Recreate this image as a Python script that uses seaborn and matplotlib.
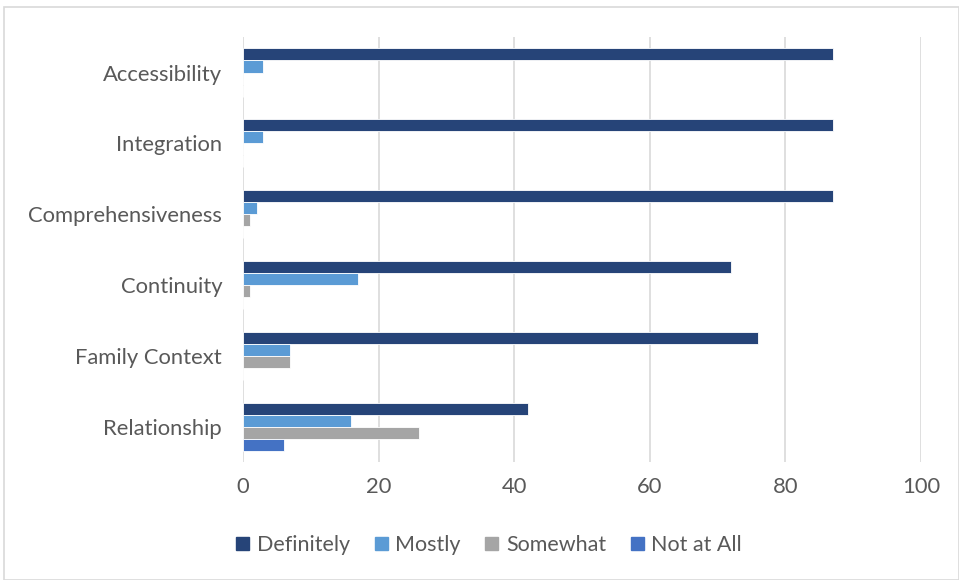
import matplotlib
matplotlib.use("Agg")
import matplotlib.pyplot as plt
import seaborn as sns
import pandas as pd
from matplotlib.patches import Rectangle

categories = ["Accessibility", "Integration", "Comprehensiveness", "Continuity", "Family Context", "Relationship"]
series = ["Definitely", "Mostly", "Somewhat", "Not at All"]
definitely = [87, 87, 87, 72, 76, 42]
mostly = [3, 3, 2, 17, 7, 16]
somewhat = [0, 0, 1, 1, 7, 26]
not_at_all = [0, 0, 0, 0, 0, 6]
colors = ["#264478", "#5B9BD5", "#A5A5A5", "#4472C4"]
xticks = [0, 20, 40, 60, 80, 100]

rows = []
for s, vals in zip(series, [definitely, mostly, somewhat, not_at_all]):
    for c, v in zip(categories, vals):
        rows.append({"Category": c, "Series": s, "Value": v})
df = pd.DataFrame(rows)

sns.set_theme(style="white")
plt.rcParams['font.family'] = ['Lato', 'DejaVu Sans']
text_color = "#595959"
fs = 15.8

fig = plt.figure(figsize=(9.59, 5.8), dpi=100)
ax = fig.add_axes([0.2534, 0.2034, 0.9604 - 0.2534, 0.936 - 0.2034])
sns.barplot(data=df, y="Category", x="Value", hue="Series", order=categories,
            hue_order=series, palette=colors, orient="h", width=0.68,
            ax=ax, saturation=1, linewidth=0.6, edgecolor="white")

ax.set_xlim(0, 100)
ax.set_xticks(xticks)
ax.set_xticklabels([str(t) for t in xticks])
ax.xaxis.grid(True, color="#D9D9D9", linewidth=1.2)
ax.set_axisbelow(True)
for sp in ax.spines.values():
    sp.set_visible(False)
ax.set_xlabel("")
ax.set_ylabel("")
ax.tick_params(axis="both", length=0, colors=text_color, labelsize=fs)
ax.tick_params(axis="x", pad=11)
ax.tick_params(axis="y", pad=15)
ax.set_ylim(5.5, -0.5)

leg = ax.legend_
if leg is not None:
    leg.remove()
handles = [Rectangle((0, 0), 1, 1, color=c) for c in colors]
fig.legend(handles, series, loc="center", bbox_to_anchor=(0.51, 0.06), ncol=4,
           frameon=False, fontsize=fs - 0.3, labelcolor=text_color,
           handlelength=0.6, handleheight=0.6, handletextpad=0.35, columnspacing=1.15)

fig.patches.append(Rectangle((4 / 959, 0.0), 1 - 4 / 959, 1 - 7 / 580, transform=fig.transFigure,
                             fill=False, edgecolor="#D9D9D9", linewidth=1.2))

fig.savefig("out.png", dpi=100)
